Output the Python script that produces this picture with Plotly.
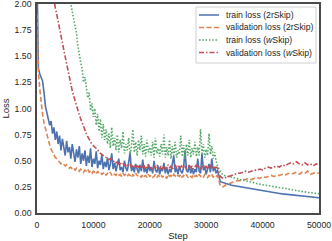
import plotly.graph_objects as go

steps = [0, 150] + list(range(250, 32001, 250)) + list(range(32500, 50001, 500))

train_2r = [2.30, 1.60,
    1.38, 1.33, 1.30, 1.26, 1.15, 1.02, 0.96, 0.90,
    0.84, 0.88, 0.76, 0.82, 0.70, 0.78, 0.66, 0.74,
    0.60, 0.71, 0.64, 0.55, 0.69, 0.58, 0.63, 0.52,
    0.66, 0.55, 0.49, 0.61, 0.53, 0.64, 0.47, 0.57,
    0.50, 0.60, 0.45, 0.55, 0.48, 0.62, 0.44, 0.52,
    0.47, 0.59, 0.43, 0.50, 0.46, 0.56, 0.42, 0.49,
    0.44, 0.53, 0.41, 0.47, 0.57, 0.42, 0.48, 0.40,
    0.46, 0.52, 0.41, 0.44, 0.39, 0.50, 0.43, 0.40,
    0.48, 0.58, 0.40, 0.45, 0.39, 0.47, 0.42, 0.38,
    0.46, 0.40, 0.51, 0.39, 0.43, 0.38, 0.47, 0.40,
    0.44, 0.38, 0.50, 0.41, 0.39, 0.45, 0.37, 0.43,
    0.40, 0.48, 0.38, 0.44, 0.37, 0.42, 0.39, 0.46,
    0.55, 0.39, 0.43, 0.37, 0.45, 0.40, 0.38, 0.44,
    0.60, 0.41, 0.39, 0.46, 0.38, 0.43, 0.37, 0.42,
    0.39, 0.52, 0.40, 0.38, 0.57, 0.41, 0.44, 0.37,
    0.42, 0.47, 0.39, 0.52, 0.40, 0.44, 0.38, 0.41,
    0.30, 0.29, 0.28, 0.27,
    0.265, 0.26, 0.255, 0.25,
    0.245, 0.24, 0.235, 0.23,
    0.225, 0.22, 0.215, 0.21,
    0.205, 0.20, 0.197, 0.193,
    0.19, 0.187, 0.183, 0.18,
    0.177, 0.173, 0.17, 0.167,
    0.163, 0.16, 0.157, 0.155,
    0.152, 0.15, 0.148, 0.146]

val_2r = [1.90, 1.50,
    1.35, 1.18, 1.05, 0.94, 0.86, 0.80, 0.74, 0.69,
    0.65, 0.61, 0.58, 0.56, 0.53, 0.52, 0.50, 0.49,
    0.47, 0.48, 0.46, 0.45, 0.46, 0.44, 0.43, 0.44,
    0.42, 0.43, 0.41, 0.43, 0.42, 0.40, 0.42, 0.41,
    0.39, 0.41, 0.40, 0.42, 0.39, 0.40, 0.38, 0.40,
    0.39, 0.37, 0.40, 0.38, 0.39, 0.37, 0.38, 0.39,
    0.36, 0.38, 0.37, 0.39, 0.36, 0.38, 0.37, 0.36,
    0.38, 0.36, 0.37, 0.35, 0.38, 0.36, 0.37, 0.35,
    0.37, 0.36, 0.34, 0.37, 0.35, 0.38, 0.36, 0.35,
    0.36, 0.34, 0.37, 0.35, 0.36, 0.34, 0.37, 0.35,
    0.36, 0.34, 0.35, 0.37, 0.34, 0.36, 0.35, 0.37,
    0.34, 0.36, 0.35, 0.33, 0.37, 0.35, 0.36, 0.34,
    0.37, 0.35, 0.34, 0.36, 0.35, 0.37, 0.34, 0.36,
    0.35, 0.37, 0.34, 0.36, 0.35, 0.34, 0.37, 0.35,
    0.36, 0.34, 0.37, 0.35, 0.36, 0.34, 0.37, 0.35,
    0.34, 0.36, 0.35, 0.37, 0.34, 0.36, 0.35, 0.36,
    0.26, 0.25, 0.27, 0.28,
    0.29, 0.30, 0.31, 0.31,
    0.32, 0.32, 0.33, 0.32,
    0.33, 0.34, 0.33, 0.35,
    0.34, 0.35, 0.36, 0.35,
    0.36, 0.36, 0.37, 0.36,
    0.38, 0.37, 0.38, 0.39,
    0.37, 0.39, 0.38, 0.40,
    0.37, 0.38, 0.39, 0.38]

train_w = [5.0, 4.85,
    4.7, 4.5, 4.3, 4.1, 3.9, 3.72, 3.55, 3.4,
    3.25, 3.12, 3.0, 2.9, 2.8, 2.7, 2.62, 2.55,
    2.48, 2.41, 2.35, 2.28, 2.22, 2.16, 2.10, 2.02,
    1.95, 1.86, 1.80, 1.72, 1.60, 1.50, 1.44, 1.38,
    1.25, 1.30, 1.18, 1.10, 1.15, 0.98, 1.05, 0.92,
    1.00, 0.84, 0.95, 0.78, 0.90, 0.72, 0.85, 0.70,
    0.80, 0.66, 0.76, 0.62, 0.82, 0.64, 0.72, 0.60,
    0.75, 0.58, 0.70, 0.62, 0.78, 0.57, 0.66, 0.60,
    0.72, 0.56, 0.64, 0.80, 0.58, 0.68, 0.55, 0.70,
    0.60, 0.74, 0.56, 0.66, 0.54, 0.70, 0.58, 0.63,
    0.55, 0.68, 0.53, 0.72, 0.57, 0.62, 0.54, 0.66,
    0.56, 0.75, 0.53, 0.63, 0.55, 0.70, 0.52, 0.64,
    0.55, 0.68, 0.53, 0.60, 0.56, 0.74, 0.54, 0.65,
    0.52, 0.66, 0.55, 0.70, 0.53, 0.62, 0.56, 0.68,
    0.54, 0.63, 0.55, 0.80, 0.57, 0.66, 0.53, 0.61,
    0.55, 0.76, 0.56, 0.64, 0.52, 0.58, 0.50, 0.45,
    0.40, 0.36, 0.355, 0.35,
    0.345, 0.335, 0.33, 0.32,
    0.315, 0.31, 0.30, 0.295,
    0.29, 0.28, 0.275, 0.27,
    0.265, 0.26, 0.255, 0.25,
    0.245, 0.24, 0.235, 0.23,
    0.225, 0.22, 0.215, 0.21,
    0.207, 0.203, 0.20, 0.197,
    0.194, 0.19, 0.188, 0.185]

val_w = [3.6, 3.5,
    3.42, 3.25, 3.1, 2.95, 2.82, 2.68, 2.55, 2.42,
    2.32, 2.22, 2.13, 2.04, 1.96, 1.90, 1.84, 1.78,
    1.70, 1.63, 1.56, 1.49, 1.42, 1.35, 1.29, 1.23,
    1.17, 1.12, 1.07, 1.02, 0.98, 0.94, 0.90, 0.86,
    0.82, 0.79, 0.76, 0.73, 0.70, 0.68, 0.66, 0.64,
    0.63, 0.62, 0.60, 0.58, 0.57, 0.56, 0.55, 0.54,
    0.53, 0.52, 0.51, 0.52, 0.50, 0.49, 0.50, 0.48,
    0.49, 0.47, 0.48, 0.46, 0.47, 0.46, 0.45, 0.47,
    0.45, 0.46, 0.44, 0.46, 0.45, 0.43, 0.45, 0.44,
    0.46, 0.43, 0.44, 0.45, 0.42, 0.44, 0.46, 0.43,
    0.44, 0.42, 0.45, 0.43, 0.46, 0.44, 0.42, 0.45,
    0.43, 0.45, 0.42, 0.44, 0.46, 0.43, 0.45, 0.42,
    0.44, 0.46, 0.43, 0.45, 0.42, 0.44, 0.46, 0.43,
    0.45, 0.42, 0.44, 0.46, 0.43, 0.45, 0.42, 0.44,
    0.46, 0.43, 0.45, 0.42, 0.44, 0.46, 0.43, 0.45,
    0.42, 0.44, 0.46, 0.43, 0.45, 0.42, 0.44, 0.43,
    0.35, 0.33, 0.34, 0.35,
    0.36, 0.37, 0.38, 0.38,
    0.39, 0.40, 0.39, 0.40,
    0.41, 0.41, 0.42, 0.41,
    0.43, 0.44, 0.43, 0.44,
    0.45, 0.44, 0.46, 0.45,
    0.47, 0.48, 0.47, 0.49,
    0.47, 0.46, 0.48, 0.46,
    0.47, 0.45, 0.47, 0.46]

series_names = ["train loss (2rSkip)", "validation loss (2rSkip)",
                "train loss (<i>w</i>Skip)", "validation loss (<i>w</i>Skip)"]
series_values = [train_2r, val_2r, train_w, val_w]
colors = ["#4C72B0", "#DD8452", "#55A868", "#C44E52"]
dashes = ["solid", "5px,2.5px", "1.5px,1.8px", "5px,2px,1.5px,2px"]

x_ticks = [0, 10000, 20000, 30000, 40000, 50000]
y_ticks = [0, 0.25, 0.5, 0.75, 1.0, 1.25, 1.5, 1.75, 2.0]

for v in series_values:
    assert len(v) == len(steps), (len(v), len(steps))

fig = go.Figure()
for name, vals, c, d in zip(series_names, series_values, colors, dashes):
    fig.add_trace(go.Scatter(x=steps, y=vals, mode="lines", name=name, showlegend=False,
                             line=dict(color=c, width=1.6, dash=d)))

# compact legend box in paper coordinates
shapes = [dict(type="rect", xref="paper", yref="paper", x0=0.5638, x1=0.9894,
               y0=0.7177, y1=0.9856, line=dict(color="#cfcfcf", width=1),
               fillcolor="white", layer="above")]
annotations = []
row_y = [0.9474, 0.8876, 0.8278, 0.7679]
for name, c, d, yy in zip(series_names, colors, dashes, row_y):
    shapes.append(dict(type="line", xref="paper", yref="paper", x0=0.5745, x1=0.6454,
                       y0=yy, y1=yy, line=dict(color=c, width=1.5, dash=d), layer="above"))
    annotations.append(dict(xref="paper", yref="paper", x=0.6631, y=yy, text=name,
                            showarrow=False, xanchor="left", yanchor="middle",
                            font=dict(size=8.7, color="#262626")))

axis_common = dict(showline=True, linecolor="#4a4a4a", linewidth=1.5, mirror=True,
                   showgrid=False, zeroline=False, ticks="", automargin=False,
                   ticklabeloverflow="allow",
                   tickfont=dict(size=8.7, color="#262626"))

fig.update_layout(
    width=332, height=241,
    margin=dict(l=37, r=13, t=4, b=28),
    plot_bgcolor="white", paper_bgcolor="white",
    font=dict(family="Liberation Sans, Arial", color="#262626"),
    shapes=shapes, annotations=annotations,
    xaxis=dict(range=[0, 50000], tickvals=x_ticks, ticktext=[str(v) for v in x_ticks],
               ticklabelstandoff=3,
               title=dict(text="Step", font=dict(size=9.5), standoff=3), **axis_common),
    yaxis=dict(range=[0, 2], tickvals=y_ticks, ticktext=[f"{v:.2f}" for v in y_ticks],
               ticklabelstandoff=2,
               title=dict(text="Loss", font=dict(size=9.5), standoff=5), **axis_common),
)

fig.write_html("out.html", config={"displayModeBar": False},
               post_script="document.body.style.margin='0';")
